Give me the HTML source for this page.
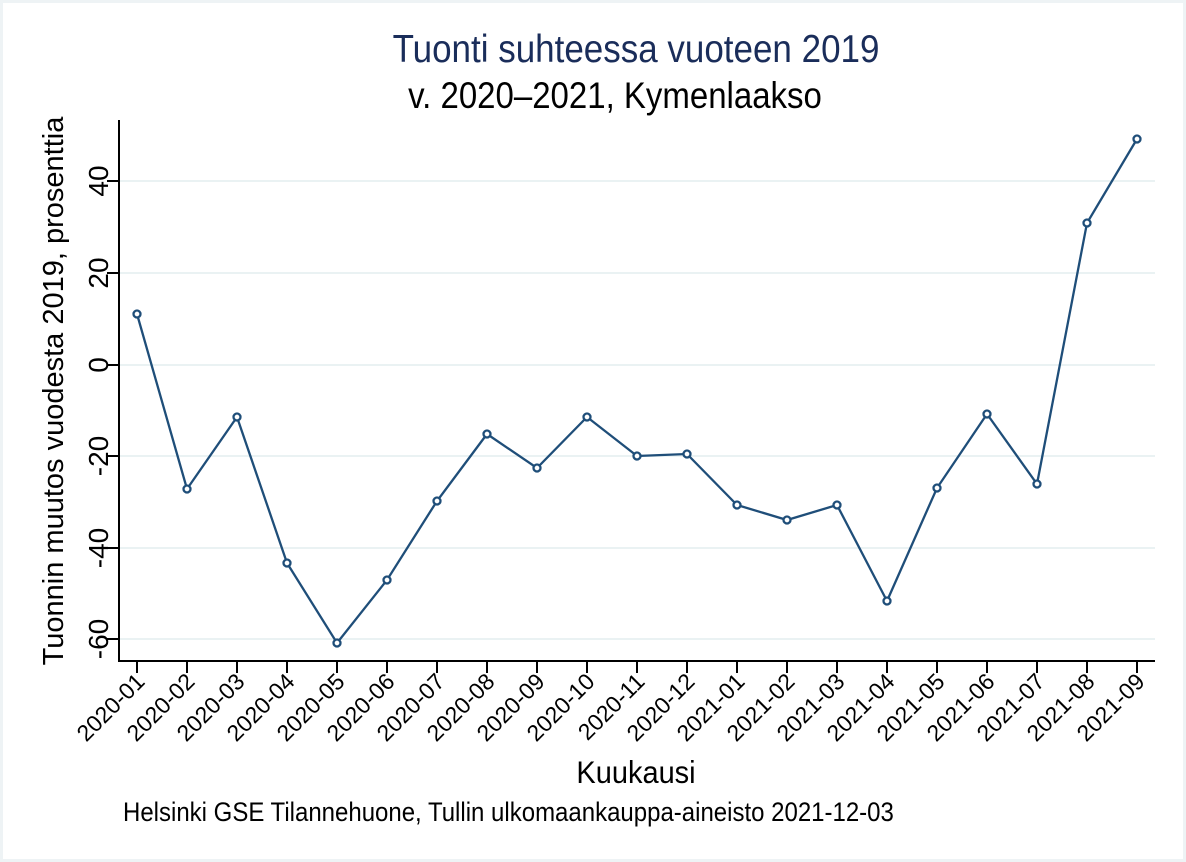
<!DOCTYPE html>
<html><head><meta charset="utf-8"><style>
html,body{margin:0;padding:0;background:#fff}
svg{display:block}
text{font-family:"Liberation Sans",Arial,sans-serif}
</style></head><body>
<svg width="1186" height="862" viewBox="0 0 1186 862" xmlns="http://www.w3.org/2000/svg">
<rect x="1.5" y="1.5" width="1183" height="859" fill="#fff" stroke="#eef3f5" stroke-width="3"/>
<text transform="translate(636,62) scale(1,1.12)" font-size="35" fill="#1a2d5a" text-anchor="middle">Tuonti suhteessa vuoteen 2019</text>
<text transform="translate(615,108) scale(1,1.12)" font-size="33" fill="#000" text-anchor="middle">v. 2020–2021, Kymenlaakso</text>
<g stroke="#eaf2f3" stroke-width="2">
<line x1="119" x2="1155" y1="181" y2="181"/><line x1="119" x2="1155" y1="273" y2="273"/>
<line x1="119" x2="1155" y1="365" y2="365"/><line x1="119" x2="1155" y1="456" y2="456"/>
<line x1="119" x2="1155" y1="548" y2="548"/><line x1="119" x2="1155" y1="639" y2="639"/>
</g>
<g stroke="#000" stroke-width="2" fill="none">
<polyline points="119,120 119,661 1155,661"/>
<path d="M107,181h12M107,273h12M107,365h12M107,456h12M107,548h12M107,639h12"/>
<path d="M137,661v12M187,661v12M237,661v12M287,661v12M337,661v12M387,661v12M437,661v12M487,661v12M537,661v12M587,661v12M637,661v12M687,661v12M737,661v12M787,661v12M837,661v12M887,661v12M937,661v12M987,661v12M1037,661v12M1087,661v12M1137,661v12"/>
</g>
<g font-size="28" text-anchor="middle" fill="#000">
<text transform="translate(108,181) rotate(-90)">40</text>
<text transform="translate(108,273) rotate(-90)">20</text>
<text transform="translate(108,365) rotate(-90)">0</text>
<text transform="translate(108,456) rotate(-90)">-20</text>
<text transform="translate(108,548) rotate(-90)">-40</text>
<text transform="translate(108,639) rotate(-90)">-60</text>
</g>
<text transform="translate(63,391) rotate(-90)" font-size="29" text-anchor="middle">Tuonnin muutos vuodesta 2019, prosenttia</text>
<g font-size="23" text-anchor="end">
<text transform="translate(146,683) rotate(-45)">2020-01</text>
<text transform="translate(196,683) rotate(-45)">2020-02</text>
<text transform="translate(246,683) rotate(-45)">2020-03</text>
<text transform="translate(296,683) rotate(-45)">2020-04</text>
<text transform="translate(346,683) rotate(-45)">2020-05</text>
<text transform="translate(396,683) rotate(-45)">2020-06</text>
<text transform="translate(446,683) rotate(-45)">2020-07</text>
<text transform="translate(496,683) rotate(-45)">2020-08</text>
<text transform="translate(546,683) rotate(-45)">2020-09</text>
<text transform="translate(596,683) rotate(-45)">2020-10</text>
<text transform="translate(646,683) rotate(-45)">2020-11</text>
<text transform="translate(696,683) rotate(-45)">2020-12</text>
<text transform="translate(746,683) rotate(-45)">2021-01</text>
<text transform="translate(796,683) rotate(-45)">2021-02</text>
<text transform="translate(846,683) rotate(-45)">2021-03</text>
<text transform="translate(896,683) rotate(-45)">2021-04</text>
<text transform="translate(946,683) rotate(-45)">2021-05</text>
<text transform="translate(996,683) rotate(-45)">2021-06</text>
<text transform="translate(1046,683) rotate(-45)">2021-07</text>
<text transform="translate(1096,683) rotate(-45)">2021-08</text>
<text transform="translate(1146,683) rotate(-45)">2021-09</text>
</g>
<text transform="translate(636,783) scale(1,1.1)" font-size="29" text-anchor="middle">Kuukausi</text>
<text transform="translate(123,821) scale(1,1.1)" font-size="24">Helsinki GSE Tilannehuone, Tullin ulkomaankauppa-aineisto 2021-12-03</text>
<polyline fill="none" stroke="#1f4e79" stroke-width="2.3" points="137,314 187,489 237,417 287,563 337,643 387,580 437,501 487,434 537,468 587,417 637,456 687,454 737,505 787,520 837,505 887,601 937,488 987,414 1037,484 1087,223 1137,139"/>
<g fill="#fff" stroke="#1f4e79" stroke-width="2.3">
<circle cx="137" cy="314" r="3.5"/><circle cx="187" cy="489" r="3.5"/><circle cx="237" cy="417" r="3.5"/><circle cx="287" cy="563" r="3.5"/><circle cx="337" cy="643" r="3.5"/><circle cx="387" cy="580" r="3.5"/><circle cx="437" cy="501" r="3.5"/><circle cx="487" cy="434" r="3.5"/><circle cx="537" cy="468" r="3.5"/><circle cx="587" cy="417" r="3.5"/><circle cx="637" cy="456" r="3.5"/><circle cx="687" cy="454" r="3.5"/><circle cx="737" cy="505" r="3.5"/><circle cx="787" cy="520" r="3.5"/><circle cx="837" cy="505" r="3.5"/><circle cx="887" cy="601" r="3.5"/><circle cx="937" cy="488" r="3.5"/><circle cx="987" cy="414" r="3.5"/><circle cx="1037" cy="484" r="3.5"/><circle cx="1087" cy="223" r="3.5"/><circle cx="1137" cy="139" r="3.5"/>
</g>
</svg>
</body></html>
